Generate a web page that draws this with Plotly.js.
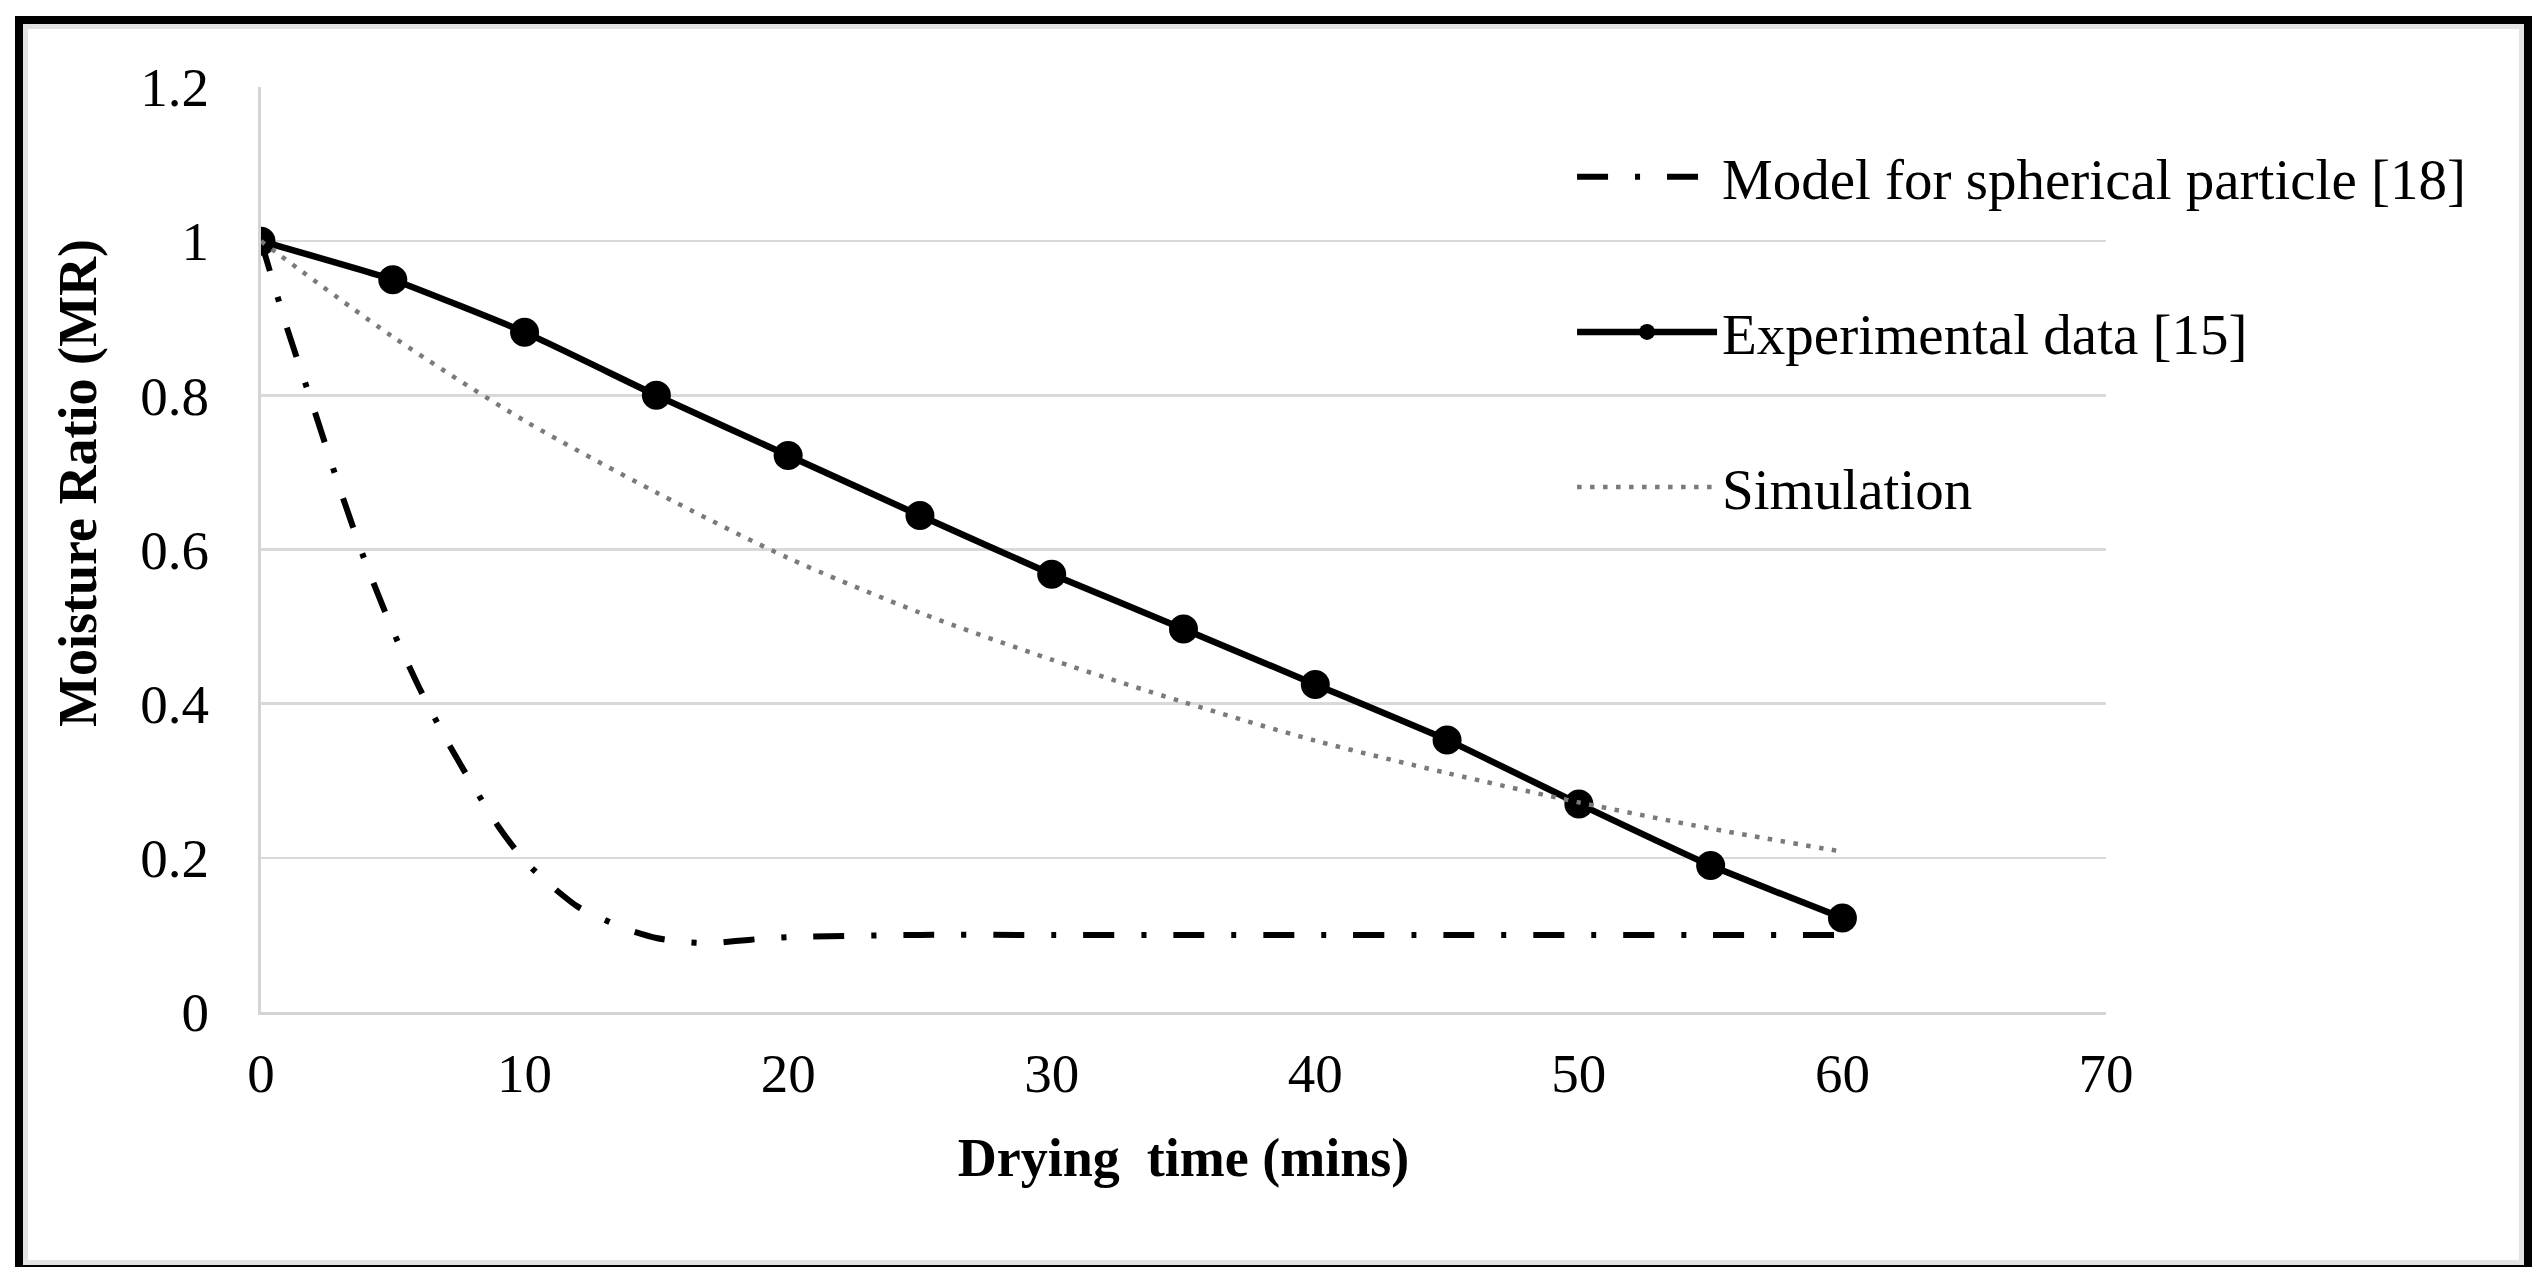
<!DOCTYPE html>
<html>
<head>
<meta charset="utf-8">
<script src="https://cdn.plot.ly/plotly-3.0.1.min.js"></script>
<style>
  html, body { margin: 0; padding: 0; background: #ffffff; }
  #frame {
    position: absolute; left: 15px; top: 16px; width: 2501px; height: 1241px;
    border-left: 8px solid #000; border-top: 8px solid #000; border-right: 8px solid #000;
    border-bottom: 2px solid #000;
    box-shadow: inset 0 0 0 5px #e3e3e3;
  }
  #chart { position: absolute; left: 0; top: 0; width: 2548px; height: 1285px; }
</style>
</head>
<body>
<div id="frame"></div>
<div id="chart"></div>
<script>
// ---- data ----
const modelTime = [0, 1, 2, 3, 4, 5, 6, 7, 8, 9, 10, 11, 12, 13, 14, 15, 16, 17, 18, 19, 20, 25, 30, 35, 40, 45, 50, 55, 60];
const modelMR   = [1.0, 0.886, 0.783, 0.678, 0.58, 0.495, 0.421, 0.355, 0.296, 0.241, 0.196, 0.164, 0.137, 0.12, 0.106, 0.096, 0.091, 0.089, 0.092, 0.095, 0.097, 0.1, 0.1, 0.1, 0.1, 0.1, 0.1, 0.1, 0.1];

const expTime = [0, 5, 10, 15, 20, 25, 30, 35, 40, 45, 50, 55, 60];
const expMR   = [1.0, 0.950, 0.882, 0.800, 0.722, 0.644, 0.568, 0.497, 0.425, 0.353, 0.270, 0.190, 0.122];

const simTime = [0, 5, 10, 15, 20, 25, 30, 35, 40, 45, 50, 55, 60];
const simMR   = [1.0, 0.876, 0.767, 0.674, 0.589, 0.518, 0.457, 0.402, 0.352, 0.310, 0.272, 0.238, 0.208];

const seriesNames = ['Model for spherical particle [18]', 'Experimental data [15]', 'Simulation'];
const xTicks = [0, 10, 20, 30, 40, 50, 60, 70];
const yTicks = [0, 0.2, 0.4, 0.6, 0.8, 1, 1.2];
const yTickText = ['0', '0.2', '0.4', '0.6', '0.8', '1', '1.2'];
const xTitle = 'Drying\u00a0 time (mins)';
const yTitle = 'Moisture Ratio (MR)';

const FONT = 'Liberation Serif, Times New Roman, serif';

const traces = [
  {
    x: modelTime, y: modelMR, name: seriesNames[0], type: 'scatter', mode: 'lines',
    line: { color: '#000000', width: 6, dash: '31px,27px,5px,27px', shape: 'spline', smoothing: 0.6 },
    legendgroup: 'a'
  },
  {
    x: expTime, y: expMR, name: seriesNames[1], type: 'scatter', mode: 'lines+markers',
    line: { color: '#000000', width: 6.5, shape: 'spline', smoothing: 0.4 },
    marker: { color: '#000000', size: 29, symbol: 'circle' },
    legendgroup: 'b'
  },
  {
    x: simTime, y: simMR, name: seriesNames[2], type: 'scatter', mode: 'lines',
    line: { color: '#7a7a7a', width: 4.5, dash: '4.5px,8.5px', shape: 'spline', smoothing: 0.8 },
    legendgroup: 'c'
  }
];

const layout = {
  width: 2548, height: 1285,
  paper_bgcolor: 'rgba(0,0,0,0)', plot_bgcolor: 'rgba(0,0,0,0)',
  margin: { l: 261, r: 442, t: 87, b: 273 },
  font: { family: FONT, size: 56, color: '#000000' },
  showlegend: true,
  legend: {
    x: 0.7106, y: 0.950, xanchor: 'left', yanchor: 'top',
    bgcolor: 'rgba(0,0,0,0)', borderwidth: 0,
    font: { family: FONT, size: 57, color: '#000000' },
    traceorder: 'grouped', tracegroupgap: 78, itemwidth: 140
  },
  xaxis: {
    range: [0, 70], tickvals: xTicks, ticktext: xTicks.map(String),
    showgrid: false, zeroline: false,
    showline: true, linecolor: '#d4d4d4', linewidth: 3,
    ticks: 'outside', ticklen: 11, tickcolor: 'rgba(0,0,0,0)',
    tickfont: { family: FONT, size: 55, color: '#000000' },
    title: { text: '<b>' + xTitle + '</b>', font: { family: FONT, size: 54, color: '#000000' }, standoff: 36 },
    fixedrange: true
  },
  yaxis: {
    range: [0, 1.2], tickvals: yTicks, ticktext: yTickText,
    showgrid: true, gridcolor: '#d9d9d9', gridwidth: 2.5,
    zeroline: false,
    showline: true, linecolor: '#d4d4d4', linewidth: 3,
    ticks: 'outside', ticklen: 38, tickcolor: 'rgba(0,0,0,0)',
    tickfont: { family: FONT, size: 55, color: '#000000' },
    fixedrange: true
  },
  annotations: [
    {
      text: '<b>' + yTitle + '</b>', textangle: -90,
      xref: 'paper', yref: 'paper', x: -0.0992, y: 0.572,
      xanchor: 'center', yanchor: 'middle', showarrow: false,
      font: { family: FONT, size: 54, color: '#000000' }
    }
  ]
};

Plotly.newPlot('chart', traces, layout, { displayModeBar: false, staticPlot: true });
</script>
</body>
</html>
